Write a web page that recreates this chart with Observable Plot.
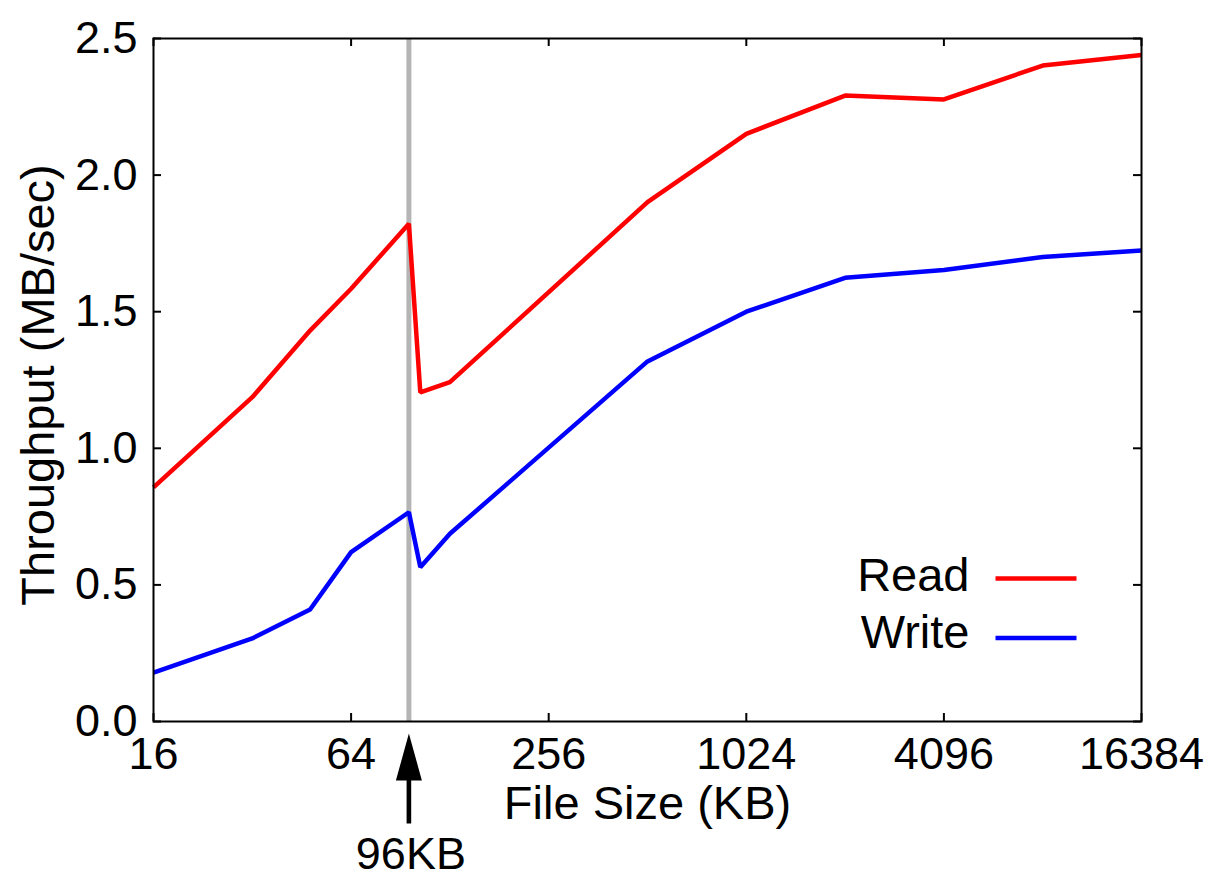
<!DOCTYPE html>
<html>
<head>
<meta charset="utf-8">
<script src="https://cdn.jsdelivr.net/npm/d3@7"></script>
<script src="https://cdn.jsdelivr.net/npm/@observablehq/plot@0.6"></script>
<style>
  html, body { margin: 0; padding: 0; background: #ffffff; }
  #chart svg { display: block; }
</style>
</head>
<body>
<div id="chart"></div>
<script>
// ---- data ----
const fileSizes = [16, 32, 48, 64, 96, 104, 128, 512, 1024, 2048, 4096, 8192, 16384];
const readMBs  = [0.857, 1.187, 1.431, 1.584, 1.822, 1.205, 1.242, 1.901, 2.151, 2.291, 2.277, 2.401, 2.440];
const writeMBs = [0.179, 0.304, 0.410, 0.620, 0.766, 0.565, 0.687, 1.318, 1.500, 1.624, 1.653, 1.700, 1.724];
const seriesNames = ["Read", "Write"];
const seriesColors = ["#ff0000", "#0000ff"];
const xTicks = [16, 64, 256, 1024, 4096, 16384];
const yTicks = [0, 0.5, 1.0, 1.5, 2.0, 2.5];
const markerSizes = [96];
const markerLabels = ["96KB"];
const xLabel = "File Size (KB)";
const yLabel = "Throughput (MB/sec)";

const rows = fileSizes.flatMap((s, i) => [
  {size: s, value: readMBs[i], series: seriesNames[0]},
  {size: s, value: writeMBs[i], series: seriesNames[1]}
]);

const FONT = "'Liberation Sans', Arial, Helvetica, sans-serif";
const W = 1213, H = 877;
const mL = 153, mR = 72, mT = 38, mB = 156;
const plotW = W - mL - mR, plotH = H - mT - mB;
const tickLen = 8;

const arrowShape = {
  draw(ctx, l) {
    const head = 47, hw = 13, sw = 2.3;
    ctx.moveTo(-sw, 0);
    ctx.lineTo(-sw, -l + head);
    ctx.lineTo(-hw, -l + head);
    ctx.lineTo(0, -l);
    ctx.lineTo(hw, -l + head);
    ctx.lineTo(sw, -l + head);
    ctx.lineTo(sw, 0);
    ctx.closePath();
  }
};
const lineShape = {
  draw(ctx, l) { ctx.moveTo(0, 0); ctx.lineTo(0, -l); }
};

const legendMarks = seriesNames.flatMap((name, i) => [
  Plot.text([name], {
    frameAnchor: "bottom-right", text: d => d, textAnchor: "end", lineAnchor: "middle",
    dx: -172, dy: -146 + i * 57, fontSize: 47, fill: "black"
  }),
  Plot.vector([name], {
    frameAnchor: "bottom-right", dx: -146, dy: -143 + i * 59.5,
    length: 81, rotate: 90, anchor: "start", shape: lineShape,
    stroke: seriesColors[i], strokeWidth: 4.5, strokeLinecap: "butt"
  })
]);

const chart = Plot.plot({
  width: W, height: H,
  marginLeft: mL, marginRight: mR, marginTop: mT, marginBottom: mB,
  style: {fontFamily: FONT, background: "#ffffff", color: "black", overflow: "visible"},
  x: {type: "log", base: 2, domain: [16, 16384]},
  y: {domain: [0, 2.5]},
  color: {domain: seriesNames, range: seriesColors},
  marks: [
    Plot.ruleX(markerSizes, {stroke: "#b5b5b5", strokeWidth: 5}),
    Plot.line(rows, {x: "size", y: "value", z: "series", stroke: "series", strokeWidth: 4.5, strokeLinejoin: "miter", strokeLinecap: "butt"}),
    Plot.frame({stroke: "black", strokeWidth: 2}),
    // inward ticks on all four sides
    Plot.tickX(xTicks, {x: d => d, insetTop: plotH - tickLen, stroke: "black", strokeWidth: 2}),
    Plot.tickX(xTicks, {x: d => d, insetBottom: plotH - tickLen, stroke: "black", strokeWidth: 2}),
    Plot.tickY(yTicks, {y: d => d, insetRight: plotW - tickLen, stroke: "black", strokeWidth: 2}),
    Plot.tickY(yTicks, {y: d => d, insetLeft: plotW - tickLen, stroke: "black", strokeWidth: 2}),
    // tick labels
    Plot.axisX(xTicks, {anchor: "bottom", tickSize: 0, tickPadding: 16, fontSize: 45, tickFormat: d => String(d), label: null}),
    Plot.axisY(yTicks, {anchor: "left", tickSize: 0, tickPadding: 16, fontSize: 45, tickFormat: d => d.toFixed(1), label: null}),
    // axis titles
    Plot.text([xLabel], {frameAnchor: "bottom", text: d => d, textAnchor: "middle", lineAnchor: "middle", dy: 82, fontSize: 47, fill: "black"}),
    Plot.text([yLabel], {frameAnchor: "left", text: d => d, textAnchor: "middle", lineAnchor: "middle", rotate: -90, dx: -115, dy: 5, fontSize: 47, fill: "black"}),
    // 96KB annotation
    Plot.vector(markerSizes, {x: d => d, frameAnchor: "bottom", dy: 102, length: 90, rotate: 0, anchor: "start", shape: arrowShape, fill: "black", stroke: "none"}),
    Plot.text(markerSizes, {x: d => d, frameAnchor: "bottom", text: (d, i) => markerLabels[i], textAnchor: "middle", lineAnchor: "middle", dy: 133, dx: 2, fontSize: 45, fill: "black"}),
    ...legendMarks
  ]
});
document.getElementById("chart").appendChild(chart);
</script>
</body>
</html>
